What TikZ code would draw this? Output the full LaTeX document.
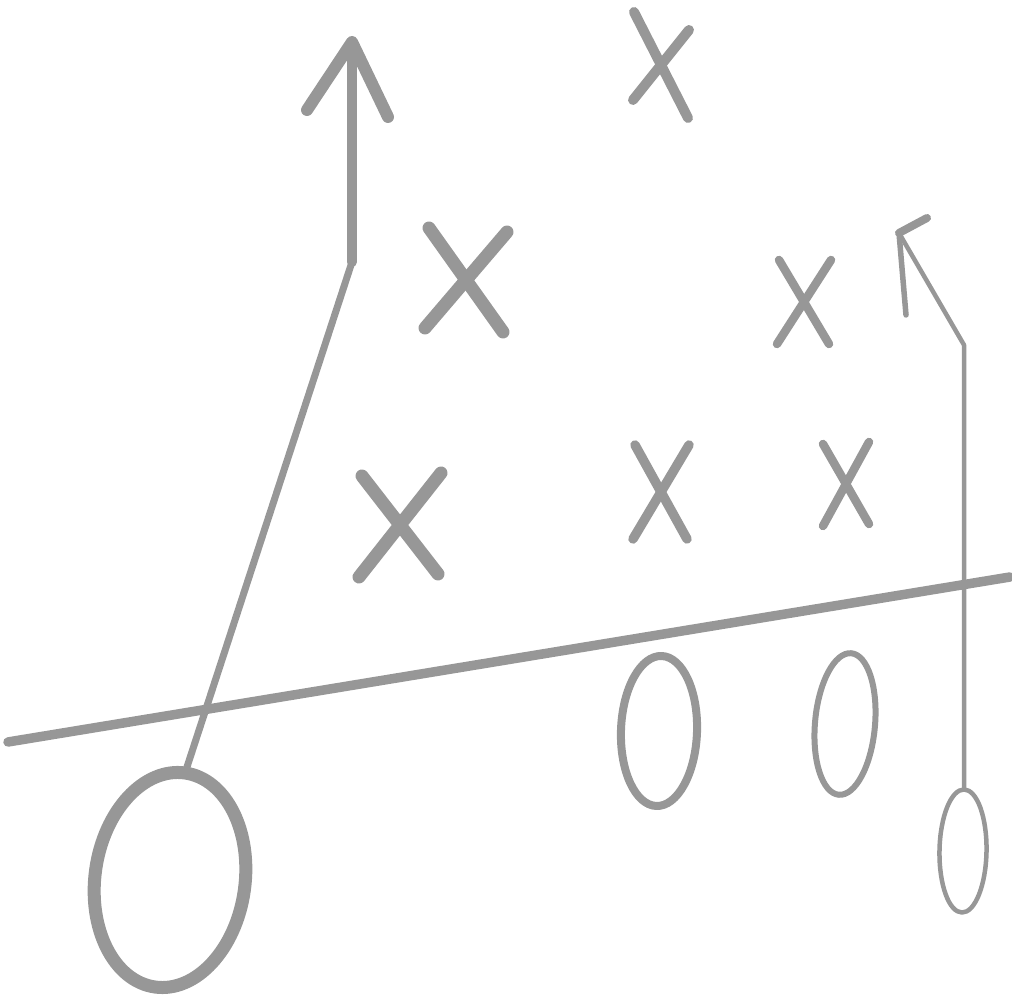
\documentclass[tikz,border=0pt]{standalone}
\usepackage{xcolor}
\usetikzlibrary{shapes.geometric}
\definecolor{chalk}{HTML}{979797}

\begin{document}
\begin{tikzpicture}[
  x=0.01cm,y=-0.01cm,
  line cap=round,line join=round,
  player/.style={ellipse,draw=chalk,inner sep=0pt,outer sep=0pt},
  stroke/.style={chalk,line width=#1},
  stroke/.default=0.1cm
]
\useasboundingbox (0,0) rectangle (1012,1007);

% offence
\node[player,line width=0.13cm,minimum width=1.5cm,minimum height=2.16cm,rotate=-8] (qb) at (170,880) {};
\node[player,line width=0.08cm,minimum width=0.76cm,minimum height=1.5cm,rotate=-2] (og) at (659,731) {};
\node[player,line width=0.06cm,minimum width=0.6cm,minimum height=1.42cm,rotate=-5] (ot) at (845,724) {};
\node[player,line width=0.045cm,minimum width=0.47cm,minimum height=1.23cm,rotate=-1] (wr) at (963,851) {};

% line of scrimmage
\coordinate (losl) at (8,742);
\coordinate (losr) at (1010,577);
\draw[stroke=0.095cm] (losl) -- (losr);

% defence
\foreach \x/\y/\a/\b/\c/\d/\w in {
  661/65/27/53/28/35/0.1cm,
  466/280/37/52/41/48/0.13cm,
  804/302/25/42/27/42/0.085cm,
  400/525/38/49/41/52/0.13cm,
  661/492/26/47/28/47/0.095cm,
  846/484/23/40/23/42/0.085cm}
{
  \draw[stroke=\w] (\x-\a,\y-\b) -- (\x+\a,\y+\b);
  \draw[stroke=\w] (\x-\c,\y+\d) -- (\x+\c,\y-\d);
}

% route of the back
\coordinate (qbbreak) at (352,262);
\coordinate (qbtip) at (352,42);
\coordinate (qbbarbl) at (307,110);
\coordinate (qbbarbr) at (388,117);
\draw[stroke=0.07cm] (qb.north) -- (qbbreak);
\draw[stroke=0.1cm] (qbbreak) -- (qbtip);
\draw[stroke=0.12cm] (qbbarbl) -- (qbtip) -- (qbbarbr);

% route of the end
\coordinate (wrbreak) at (964,345);
\coordinate (wrtip) at (899,233);
\coordinate (wrbarbu) at (927,218);
\coordinate (wrbarbl) at (906,315);
\draw[stroke=0.045cm] (wr.north) -- (wrbreak) -- (wrtip);
\draw[stroke=0.08cm] (wrtip) -- (wrbarbu);
\draw[stroke=0.055cm] (wrtip) -- (wrbarbl);
\end{tikzpicture}
\end{document}
